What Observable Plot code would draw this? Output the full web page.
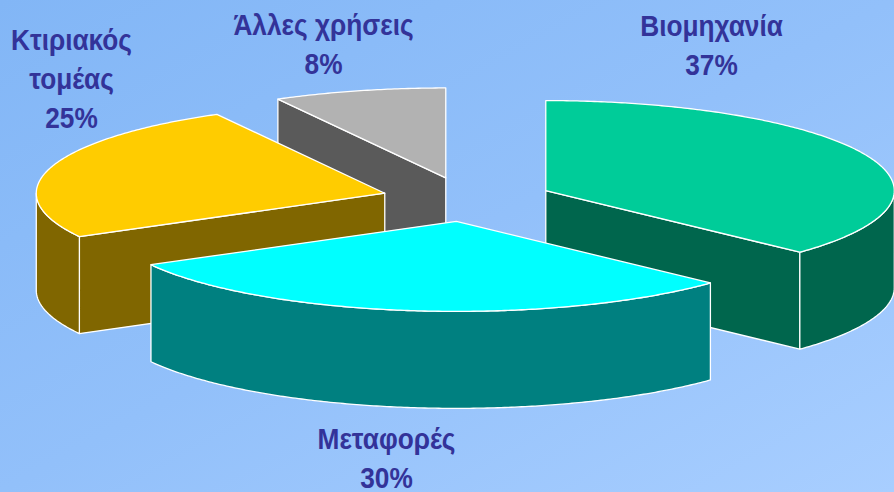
<!DOCTYPE html>
<html>
<head>
<meta charset="utf-8">
<script src="https://cdn.jsdelivr.net/npm/d3@7"></script>
<script src="https://cdn.jsdelivr.net/npm/@observablehq/plot@0.6"></script>
<style>
html,body{margin:0;padding:0;width:894px;height:492px;overflow:hidden;background:#93c0fa}
#chart{width:894px;height:492px;background:linear-gradient(to bottom right,#82b6f6 0%,#92c0fa 50%,#a8ceff 100%)}
svg{display:block;background:transparent!important}
</style>
</head>
<body>
<div id="chart"></div>
<script>
const categories = ["Βιομηχανία", "Μεταφορές", "Κτιριακός\nτομέας", "Άλλες χρήσεις"];
const shares = [37, 30, 25, 8];
const topColors = ["#00cc99", "#00ffff", "#ffcc00", "#b2b2b2"];
const sideColors = ["#00664d", "#008080", "#806600", "#5a5a5a"];
const labelX = [711, 386, 71, 323];
const labelY = [43, 456, 76, 42];
const drawOrder = [3, 2, 0, 1];

const W = 894, H = 492;
const cx = 466.6, cy = 198.9, rx = 348.5, ry = 90, depth = 97, explode = 0.246;
const total = d3.sum(shares);
const cum = d3.cumsum(shares);
const angle = v => v / total * 2 * Math.PI;

const slices = shares.map((v, i) => {
  const a0 = angle(i ? cum[i - 1] : 0), a1 = angle(cum[i]), m = (a0 + a1) / 2;
  return {a0, a1, ax: cx + explode * rx * Math.sin(m), ay: cy - explode * ry * Math.cos(m)};
});
const rim = (s, a) => [s.ax + rx * Math.sin(a), s.ay - ry * Math.cos(a)];
const arc = (s, a0, a1) => {
  const n = Math.max(2, Math.ceil((a1 - a0) / 0.01));
  return d3.range(n + 1).map(k => rim(s, a0 + (a1 - a0) * k / n));
};
const down = pts => pts.map(([x, y]) => [x, y + depth]);
const close = pts => [...pts, pts[0]];
const shape = (pts, fill) => Plot.line(close(pts), {
  x: d => d[0], y: d => d[1], fill, stroke: "#fff", strokeWidth: 1.3, strokeLinejoin: "round", curve: "linear"
});

const marks = [];
for (const i of drawOrder) {
  const s = slices[i], apex = [s.ax, s.ay];
  const cut = a => [apex, rim(s, a), down([rim(s, a)])[0], down([apex])[0]];
  if (Math.sin(s.a0) < 0) marks.push(shape(cut(s.a0), sideColors[i]));
  if (Math.sin(s.a1) > 0) marks.push(shape(cut(s.a1), sideColors[i]));
  const w0 = Math.max(s.a0, Math.PI / 2), w1 = Math.min(s.a1, 3 * Math.PI / 2);
  if (w1 > w0) {
    const edge = arc(s, w0, w1);
    marks.push(shape([...edge, ...down(edge).reverse()], sideColors[i]));
  }
  marks.push(shape([apex, ...arc(s, s.a0, s.a1)], topColors[i]));
}

const labels = categories.map((c, i) => ({text: `${c}\n${shares[i]}%`, x: labelX[i], y: labelY[i]}));
marks.push(Plot.text(labels, {
  x: "x", y: "y", text: "text", fill: "#333399", fontSize: 30, fontWeight: "bold",
  fontFamily: "Liberation Sans", lineHeight: 1.3, textAnchor: "middle"
}));

const chart = Plot.plot({
  width: W, height: H, margin: 0,
  x: {domain: [0, W], range: [0, W], axis: null},
  y: {domain: [0, H], range: [0, H], axis: null},
  style: {background: "transparent"},
  marks
});
// The reference's labels are set in a condensed bold: narrow them horizontally.
chart.querySelectorAll("text").forEach(t => {
  t.setAttribute("transform", (t.getAttribute("transform") || "") + " scale(0.875,1)");
});
document.getElementById("chart").append(chart);
</script>
</body>
</html>
